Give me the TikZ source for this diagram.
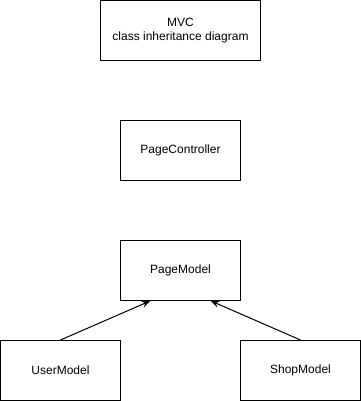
\documentclass[tikz,border=0pt]{standalone}
\usepackage{fontspec}
\setmainfont{Liberation Sans}
\usetikzlibrary{arrows.meta}

\begin{document}
\begin{tikzpicture}[
        x=0.75pt, y=-0.75pt,
        every node/.style={font=\fontsize{9}{11}\selectfont},
        cls/.style={draw, line width=0.75pt, minimum width=90pt, minimum height=45pt, inner sep=0pt, align=center},
        title/.style={cls, minimum width=120pt},
        inherit/.style={line width=0.75pt, -{Stealth[length=6pt, width=5pt]}}
    ]

    \useasboundingbox (0,0) rectangle (361,401);

    \node[title] (mvc) at (180.5,30.5) {MVC\\class inheritance diagram};
    \node[cls] (ctrl) at (180.5,150.5) {PageController};
    \node[cls] (page) at (180.5,270.5) {PageModel};
    \node[cls] (user) at (60.5,370.5) {UserModel};
    \node[cls] (shop) at (300.5,370.5) {ShopModel};

    \draw[inherit] (user.north) -- (page.225);
    \draw[inherit] (shop.north) -- (page.315);
\end{tikzpicture}
\end{document}
